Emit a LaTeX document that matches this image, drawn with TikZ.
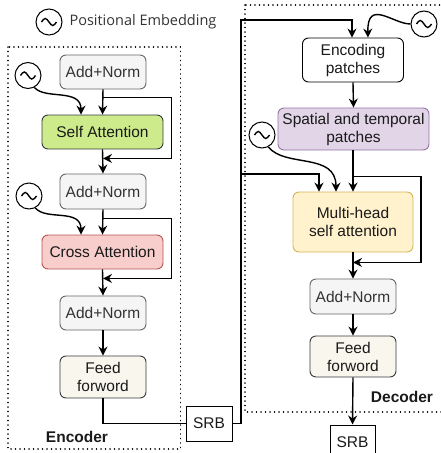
\documentclass[tikz,border=0pt]{standalone}
\usepackage{fontspec}
\setmainfont{Liberation Sans}
\newfontfamily\legendfont{Open Sans}
\usetikzlibrary{arrows.meta,calc}

\definecolor{normfill}{HTML}{F5F5F5}
\definecolor{normline}{HTML}{666666}
\definecolor{normtext}{HTML}{333333}
\definecolor{greenfill}{HTML}{CDEB8B}
\definecolor{darkline}{HTML}{36393D}
\definecolor{redfill}{HTML}{F8CECC}
\definecolor{redline}{HTML}{B85450}
\definecolor{beigefill}{HTML}{F9F7ED}
\definecolor{purplefill}{HTML}{E1D5E7}
\definecolor{purpleline}{HTML}{9673A6}
\definecolor{yellowfill}{HTML}{FFF2CC}
\definecolor{yellowline}{HTML}{D6B656}
\definecolor{ink}{HTML}{1A1A1A}

\tikzset{
  block/.style={draw, rounded corners=6pt, line width=0.9pt, inner sep=0pt,
    align=center, text=ink, font=\fontsize{15.5}{18}\selectfont},
  normbox/.style={block, fill=normfill, draw=normline, text=normtext,
    minimum width=86pt, minimum height=34pt},
  plainbox/.style={draw, line width=1pt, fill=white, inner sep=0pt,
    minimum width=46pt, minimum height=35pt, text=ink, font=\fontsize{15.5}{18}\selectfont},
  pe/.style={circle, draw, line width=1pt, fill=white, minimum size=26pt, inner sep=0pt,
    path picture={\draw[line width=1.4pt]
      ($(path picture bounding box.center)+(-7.5,0)$)
      sin ++(3.75,-3.5) cos ++(3.75,3.5) sin ++(3.75,3.5) cos ++(3.75,-3.5);}},
  group/.style={draw, line width=1.5pt, dash pattern=on 0.1pt off 4.4pt, line cap=round},
  link/.style={line width=1.4pt, -{Stealth[length=9pt,width=9pt,inset=3pt]}},
  wire/.style={line width=1.4pt},
  title/.style={font=\bfseries\fontsize{15.5}{18}\selectfont, text=ink}
}

\begin{document}
\begin{tikzpicture}[x=1pt,y=-1pt]
\useasboundingbox (0,0) rectangle (441,453);

% dotted group frames
\draw[group] (8,47) rectangle (180.5,449);
\draw[group] (245,5) rectangle (446,412);

% legend
\node[pe] (legend) at (49,22) {};
\node[anchor=west, font=\legendfont\fontsize{14.5}{17}\selectfont, text=normtext]
  (legendtext) at (66,21.5) {Positional Embedding};

% encoder blocks
\node[normbox] (an1) at (103,72) {Add+Norm};
\node[block, fill=greenfill, draw=darkline, minimum width=121pt, minimum height=34pt]
  (sa) at (102.5,132) {Self Attention};
\node[normbox, minimum height=35pt] (an2) at (103,191.5) {Add+Norm};
\node[block, fill=redfill, draw=redline, minimum width=121pt, minimum height=34pt]
  (ca) at (102.5,252) {Cross Attention};
\node[normbox] (an3) at (103,313) {Add+Norm};
\node[block, fill=beigefill, draw=darkline, minimum width=86pt, minimum height=42pt]
  (ff1) at (103,377) {Feed\\forword};
\node[plainbox] (srb1) at (209,423.5) {SRB};
\node[title] (enclabel) at (77,437) {Encoder};

\node[pe] (pe1) at (28,75.5) {};
\node[pe] (pe2) at (29,196) {};

% decoder blocks
\node[block, fill=white, draw=black, minimum width=101pt, minimum height=44pt]
  (enc) at (353,60) {Encoding\\patches};
\node[block, fill=purplefill, draw=purpleline, minimum width=151pt, minimum height=42pt]
  (stp) at (353.5,129) {Spatial and temporal\\patches};
\node[block, fill=yellowfill, draw=yellowline, minimum width=120pt, minimum height=60pt]
  (mh) at (353,222) {Multi-head\\self attention};
\node[normbox, minimum height=35pt] (an4) at (353,296.5) {Add+Norm};
\node[block, fill=beigefill, draw=darkline, minimum width=86pt, minimum height=41pt]
  (ff2) at (353,356.5) {Feed\\forword};
\node[plainbox, minimum width=45pt] (srb2) at (352.5,442.5) {SRB};
\node[title] (declabel) at (402,397) {Decoder};

\node[pe] (pe3) at (262,135) {};
\node[pe] (pe4) at (424,24) {};

% encoder flow
\coordinate (s1a) at ($(an1.south)+(0,8)$);
\coordinate (s1b) at ($(sa.south)+(0.5,9)$);
\draw[link] (an1.south) -- (sa.north);
\draw[link] (s1a) -| ($(s1b)+(68.5,0)$) -- (s1b);
\draw[link] (sa.south) -- (an2.north);
\draw[link] (pe1.-62) .. controls (45,100) and (81,88) .. ($(sa.north)+(-21.5,0)$);

\coordinate (s2a) at ($(an2.south)+(0,9)$);
\coordinate (s2b) at ($(ca.south)+(0.5,9)$);
\draw[link] (an2.south) -- (ca.north);
\draw[link] (s2a) -| ($(s2b)+(68.5,0)$) -- (s2b);
\draw[link] (ca.south) -- (an3.north);
\draw[link] (pe2.-62) .. controls (46,221) and (81,208) .. ($(ca.north)+(-21.5,0)$);

\draw[link] (an3.south) -- (ff1.north);
\draw[wire] (ff1.south) |- (srb1.west);

% encoder output into the decoder
\coordinate (bus) at (241,20);
\coordinate (tap) at (241,174);
\draw[link] (srb1.east) -| (bus) -| ($(enc.north)+(-1,0)$);
\draw[link] (tap) -| ($(mh.north)+(-34,0)$);
\draw[link] (pe4.west) .. controls (393,24) and (367,-2) .. ($(enc.north)+(15,0)$);

% decoder flow
\draw[link] (enc.south) -- (stp.north);
\coordinate (s3a) at ($(stp.south)+(-0.5,26)$);
\coordinate (s3b) at ($(mh.south)+(0,10)$);
\draw[link] ($(stp.south)+(-0.5,0)$) -- (mh.north);
\draw[link] (s3a) -| ($(s3b)+(68,0)$) -- (s3b);
\draw[link] (pe3.-62) .. controls (285,168) and (336,152) .. ($(mh.north)+(-17,0)$);
\draw[link] (mh.south) -- (an4.north);
\draw[link] (an4.south) -- (ff2.north);
\draw[link] (ff2.south) -- (srb2.north);
\end{tikzpicture}
\end{document}
